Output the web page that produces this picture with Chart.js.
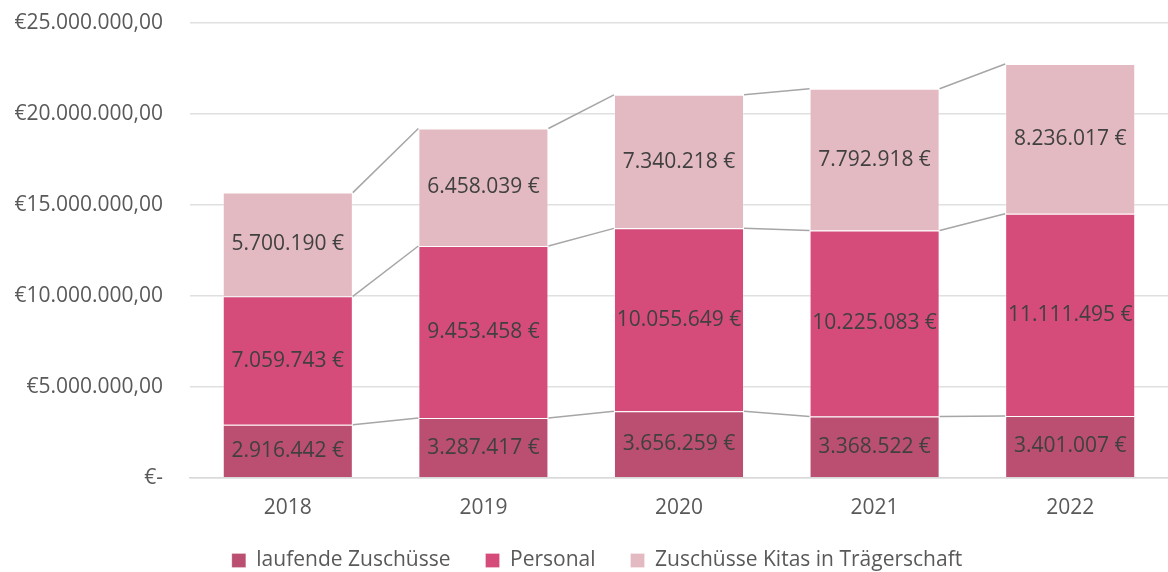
<!DOCTYPE html>
<html>
<head>
<meta charset="utf-8">
<script src="https://cdn.jsdelivr.net/npm/chart.js@4"></script>
<style>
    body { margin: 0; background: #fff; }
    #box { width: 1168px; height: 572px; }
</style>
</head>
<body>
<div id="box"><canvas id="grafico_kitas" width="1168" height="572"></canvas></div>
<script>
const jahre = ['2018', '2019', '2020', '2021', '2022']
const laufendeZuschuesse = [2916442, 3287417, 3656259, 3368522, 3401007]
const personal = [7059743, 9453458, 10055649, 10225083, 11111495]
const zuschuesseKitas = [5700190, 6458039, 7340218, 7792918, 8236017]
const yTicks = [0, 5000000, 10000000, 15000000, 20000000, 25000000]

const schrift = "'Open Sans', 'Noto Sans', sans-serif"

function euro(v) {
    return Math.round(v).toString().replace(/\B(?=(\d{3})+(?!\d))/g, '.') + ' €'
}
function euroAchse(v) {
    if (v == 0) return '€-'
    return '€' + Math.round(v).toString().replace(/\B(?=(\d{3})+(?!\d))/g, '.') + ',00'
}

// Excel-style series lines between stacked bar tops
const serienLinien = {
    id: 'serienLinien',
    afterDatasetsDraw(chart) {
        const ctx = chart.ctx
        ctx.save()
        ctx.strokeStyle = '#a6a6a6'
        ctx.lineWidth = 1.5
        chart.data.datasets.forEach((ds, d) => {
            const bars = chart.getDatasetMeta(d).data
            for (let i = 0; i < bars.length - 1; i++) {
                const a = bars[i], b = bars[i + 1]
                ctx.beginPath()
                ctx.moveTo(a.x + a.width / 2, a.y)
                ctx.lineTo(b.x - b.width / 2, b.y)
                ctx.stroke()
            }
        })
        ctx.restore()
    }
}

const werteLabels = {
    id: 'werteLabels',
    afterDatasetsDraw(chart) {
        const ctx = chart.ctx
        ctx.save()
        ctx.font = '21px ' + schrift
        ctx.fillStyle = '#404040'
        ctx.textAlign = 'center'
        ctx.textBaseline = 'middle'
        chart.data.datasets.forEach((ds, d) => {
            chart.getDatasetMeta(d).data.forEach((bar, i) => {
                ctx.fillText(euro(ds.data[i]), bar.x, (bar.y + bar.base) / 2)
            })
        })
        ctx.restore()
    }
}

// legend keeps wide gaps between items but takes little height
const legendeHoehe = {
    id: 'legendeHoehe',
    afterInit(chart) {
        const leg = chart.legend
        const fit = leg.fit
        leg.fit = function () {
            fit.call(this)
            this.height = 33
        }
    },
    afterLayout(chart) {
        chart.legend.top = 515
        chart.legend.left += 13
        chart.legend.right += 13
    }
}

let graficoKitas = new Chart(
    document.getElementById('grafico_kitas'),
    {
        type: 'bar',
        data: {
            labels: jahre,
            datasets: [
                {
                    label: 'laufende Zuschüsse',
                    data: laufendeZuschuesse,
                    backgroundColor: '#ba4f72',
                    borderColor: 'rgba(255,255,255,0.25)',
                    borderWidth: 1
                },
                {
                    label: 'Personal',
                    data: personal,
                    backgroundColor: '#d54c7b',
                    borderColor: 'rgba(255,255,255,0.25)',
                    borderWidth: 1
                },
                {
                    label: 'Zuschüsse Kitas in Trägerschaft',
                    data: zuschuesseKitas,
                    backgroundColor: '#e4bac2',
                    borderColor: 'rgba(255,255,255,0.25)',
                    borderWidth: 1
                }
            ]
        },
        options: {
            responsive: false,
            animation: false,
            layout: {
                padding: { top: 23, right: 0, bottom: 0, left: 0 }
            },
            datasets: {
                bar: { categoryPercentage: 1, barPercentage: 0.665 }
            },
            scales: {
                x: {
                    stacked: true,
                    grid: { display: false, drawTicks: false },
                    border: { color: '#d9d9d9', width: 1.5 },
                    ticks: {
                        color: '#595959',
                        font: { family: schrift, size: 21 },
                        padding: 18
                    }
                },
                y: {
                    stacked: true,
                    min: 0,
                    max: 25000000,
                    afterBuildTicks(scale) {
                        scale.ticks = yTicks.map(v => ({ value: v }))
                    },
                    afterFit(scale) {
                        scale.width = 190
                        scale.paddingTop = 0
                        scale.paddingBottom = 0
                    },
                    grid: { color: '#e0e0e0', lineWidth: 1.5, drawTicks: false },
                    border: { display: false },
                    ticks: {
                        color: '#595959',
                        font: { family: schrift, size: 21 },
                        padding: 27,
                        callback: v => euroAchse(v)
                    }
                }
            },
            plugins: {
                legend: {
                    position: 'bottom',
                    labels: {
                        color: '#595959',
                        font: { family: schrift, size: 21 },
                        boxWidth: 14,
                        boxHeight: 14,
                        padding: 35
                    }
                },
                tooltip: { enabled: false }
            }
        },
        plugins: [serienLinien, werteLabels, legendeHoehe]
    }
)
</script>
</body>
</html>
